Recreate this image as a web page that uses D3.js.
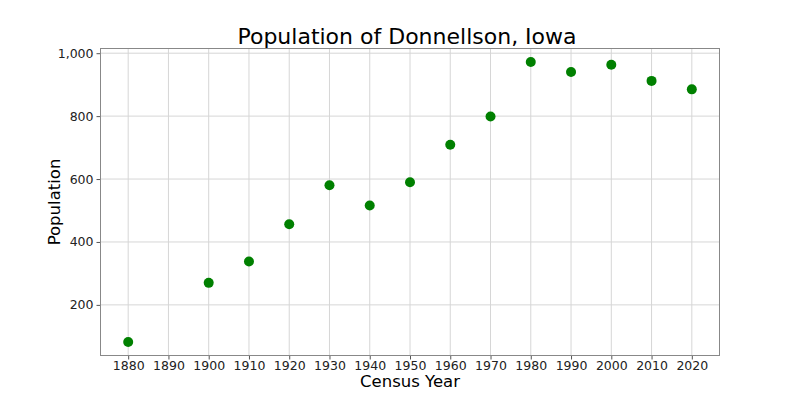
<!DOCTYPE html>
<html>
<head>
<meta charset="utf-8">
<script src="https://cdn.jsdelivr.net/npm/d3@7"></script>
<style>
  html, body { margin: 0; padding: 0; background: #fff; }
  svg { display: block; font-family: "DejaVu Sans", sans-serif; }
</style>
</head>
<body>
<svg id="chart" width="800" height="400"></svg>
<script>
const years = [1880, 1900, 1910, 1920, 1930, 1940, 1950, 1960, 1970, 1980, 1990, 2000, 2010, 2020];
const population = [82, 270, 338, 456, 580, 516, 590, 709, 799, 972, 940, 963, 912, 885];
const xTicks = [1880, 1890, 1900, 1910, 1920, 1930, 1940, 1950, 1960, 1970, 1980, 1990, 2000, 2010, 2020];
const yTicks = [200, 400, 600, 800, 1000];
const title = "Population of Donnellson, Iowa";
const xLabel = "Census Year";
const yLabel = "Population";

const svg = d3.select("#chart");
const m = { left: 100, right: 80, top: 48, bottom: 44 };
const W = 800, H = 400;
const iw = W - m.left - m.right, ih = H - m.top - m.bottom;

const xMin = d3.min(years), xMax = d3.max(years);
const xPad = (xMax - xMin) * 0.05;
const yMin = d3.min(population), yMax = d3.max(population);
const yPad = (yMax - yMin) * 0.05;

const x = d3.scaleLinear().domain([xMin - xPad, xMax + xPad]).range([m.left, m.left + iw]);
const y = d3.scaleLinear().domain([yMin - yPad, yMax + yPad]).range([m.top + ih, m.top]);

// grid
const g = svg.append("g");
g.selectAll(".vgrid").data(xTicks).enter().append("line")
  .attr("x1", d => x(d)).attr("x2", d => x(d))
  .attr("y1", m.top).attr("y2", m.top + ih)
  .attr("stroke", "#d6d6d6").attr("stroke-width", 1);
g.selectAll(".hgrid").data(yTicks).enter().append("line")
  .attr("x1", m.left).attr("x2", m.left + iw)
  .attr("y1", d => y(d)).attr("y2", d => y(d))
  .attr("stroke", "#d6d6d6").attr("stroke-width", 1);

// axes
const xAxis = d3.axisBottom(x).tickValues(xTicks).tickFormat(d3.format("d")).tickSizeInner(3.5).tickSizeOuter(0).tickPadding(1.5);
const yAxis = d3.axisLeft(y).tickValues(yTicks).tickFormat(d3.format(",")).tickSizeInner(3.5).tickSizeOuter(0).tickPadding(3);

const gx = svg.append("g").attr("transform", `translate(0,${m.top + ih})`).call(xAxis);
const gy = svg.append("g").attr("transform", `translate(${m.left},0)`).call(yAxis);
[gx, gy].forEach(a => {
  a.select(".domain").remove();
  a.selectAll(".tick line").attr("stroke", "#555");
  a.selectAll(".tick text").attr("fill", "#222").style("font-size", "12.5px").style("font-family", "DejaVu Sans");
});

// frame
svg.append("rect")
  .attr("x", m.left + 0.5).attr("y", m.top + 0.5)
  .attr("width", iw - 1).attr("height", ih - 1)
  .attr("fill", "none").attr("stroke", "#888").attr("stroke-width", 1);

// points
svg.append("g").selectAll("circle").data(years).enter().append("circle")
  .attr("cx", d => x(d))
  .attr("cy", (d, i) => y(population[i]))
  .attr("r", 5)
  .attr("fill", "green");

// labels
svg.append("text").attr("x", m.left + iw / 2 - 3).attr("y", 44)
  .attr("text-anchor", "middle").style("font-size", "22px").attr("fill", "#000").text(title);
svg.append("text").attr("x", m.left + iw / 2).attr("y", 387)
  .attr("text-anchor", "middle").style("font-size", "16.5px").attr("fill", "#000").text(xLabel);
svg.append("text").attr("transform", `translate(60,${m.top + ih / 2}) rotate(-90)`)
  .attr("text-anchor", "middle").style("font-size", "16.5px").attr("fill", "#000").text(yLabel);
</script>
</body>
</html>
